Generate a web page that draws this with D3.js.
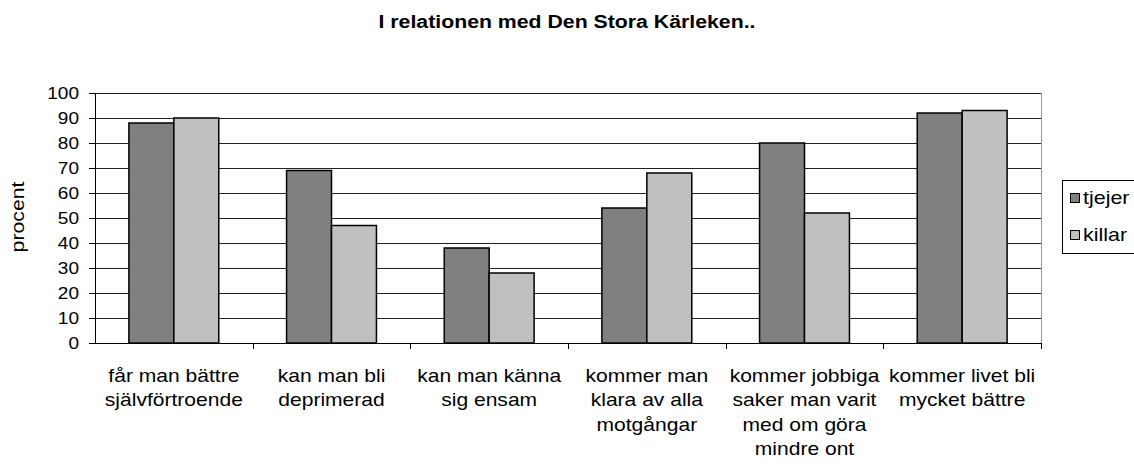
<!DOCTYPE html>
<html>
<head>
<meta charset="utf-8">
<script src="https://cdn.jsdelivr.net/npm/d3@7"></script>
<style>
  body { margin: 0; background: #fff; }
  svg text { font-family: "Liberation Sans", Arial, sans-serif; fill: #000; }
</style>
</head>
<body>
<svg id="chart"></svg>
<script>
const categories = [
  ["får man bättre", "självförtroende"],
  ["kan man bli", "deprimerad"],
  ["kan man känna", "sig ensam"],
  ["kommer man", "klara av alla", "motgångar"],
  ["kommer jobbiga", "saker man varit", "med om göra", "mindre ont"],
  ["kommer livet bli", "mycket bättre"]
];
const seriesNames = ["tjejer", "killar"];
const tjejer = [88, 69, 38, 54, 80, 92];
const killar = [90, 47, 28, 68, 52, 93];
const yTicks = [0, 10, 20, 30, 40, 50, 60, 70, 80, 90, 100];
const colors = ["#808080", "#c0c0c0"];

const width = 1134, height = 470;
const plotLeft = 95, plotRight = 1041, plotTop = 93, plotBottom = 343;

const svg = d3.select("#chart").attr("width", width).attr("height", height);

const x0 = d3.scaleBand().domain(d3.range(categories.length)).range([plotLeft, plotRight]).padding(0);
const step = x0.bandwidth();
const x1 = d3.scaleBand().domain(seriesNames).range([step * 0.215, step * 0.785]).padding(0);
const y = d3.scaleLinear().domain([0, 100]).range([plotBottom, plotTop]);

// title (text in the source is a bit stretched sideways)
svg.append("text")
  .attr("transform", "translate(567,28) scale(1.12,1)")
  .attr("text-anchor", "middle")
  .style("font-size", "19px").style("font-weight", "bold")
  .text("I relationen med Den Stora Kärleken..");

// gridlines
svg.append("g").selectAll("line")
  .data(yTicks.filter(d => d > 0))
  .enter().append("line")
  .attr("x1", plotLeft).attr("x2", plotRight)
  .attr("y1", d => Math.round(y(d)) + 0.5).attr("y2", d => Math.round(y(d)) + 0.5)
  .attr("stroke", "#222").attr("stroke-width", 1);

// right border
svg.append("line")
  .attr("x1", plotRight + 0.5).attr("x2", plotRight + 0.5)
  .attr("y1", plotTop).attr("y2", plotBottom)
  .attr("stroke", "#999");

// bars
const data = categories.map((c, i) => ({ i, values: [tjejer[i], killar[i]] }));
const groups = svg.append("g").selectAll("g")
  .data(data).enter().append("g")
  .attr("transform", d => `translate(${x0(d.i)},0)`);
groups.selectAll("rect")
  .data(d => d.values.map((v, k) => ({ key: seriesNames[k], v, k })))
  .enter().append("rect")
  .attr("x", d => x1(d.key))
  .attr("y", d => y(d.v))
  .attr("width", x1.bandwidth())
  .attr("height", d => y(0) - y(d.v))
  .attr("fill", d => colors[d.k])
  .attr("stroke", "#000").attr("stroke-width", 1.5);

// y axis
const yAxis = d3.axisLeft(y).tickValues(yTicks).tickSize(6).tickPadding(8.3);
const gy = svg.append("g").attr("transform", `translate(${plotLeft},0)`).call(yAxis);
gy.attr("font-family", null).attr("font-size", null);
gy.selectAll("text").style("font-size", "17px").attr("transform", "scale(1.12,1)");
gy.select(".domain").attr("stroke", "#000");

// x axis
svg.append("line")
  .attr("x1", plotLeft).attr("x2", plotRight)
  .attr("y1", plotBottom + 0.5).attr("y2", plotBottom + 0.5)
  .attr("stroke", "#000");
svg.append("g").selectAll("line")
  .data(d3.range(1, categories.length + 1))
  .enter().append("line")
  .attr("x1", d => Math.round(plotLeft + d * step) + 0.5).attr("x2", d => Math.round(plotLeft + d * step) + 0.5)
  .attr("y1", plotBottom).attr("y2", plotBottom + 6)
  .attr("stroke", "#000");

// category labels
const labels = svg.append("g").selectAll("text")
  .data(categories).enter().append("text")
  .attr("transform", (d, i) => `translate(${x0(i) + step / 2},382) scale(1.17,1)`)
  .attr("text-anchor", "middle")
  .style("font-size", "18px");
labels.selectAll("tspan")
  .data(d => d).enter().append("tspan")
  .attr("x", 0)
  .attr("dy", (d, i) => i === 0 ? 0 : 24.5)
  .text(d => d);

// y label
svg.append("text")
  .attr("transform", "translate(24,217) rotate(-90) scale(1.18,1)")
  .attr("text-anchor", "middle")
  .style("font-size", "18px")
  .text("procent");

// legend
const lg = svg.append("g");
lg.append("rect")
  .attr("x", 1062.5).attr("y", 180.5).attr("width", 80).attr("height", 73)
  .attr("fill", "#fff").attr("stroke", "#000");
const items = lg.selectAll("g").data(seriesNames).enter().append("g")
  .attr("transform", (d, i) => `translate(1070,${193 + i * 37})`);
items.append("rect")
  .attr("x", 0.5).attr("y", 0.5).attr("width", 9).attr("height", 9)
  .attr("fill", (d, i) => colors[i]).attr("stroke", "#000");
items.append("text")
  .attr("transform", "translate(13,11) scale(1.13,1)")
  .style("font-size", "19px")
  .text(d => d);
</script>
</body>
</html>
